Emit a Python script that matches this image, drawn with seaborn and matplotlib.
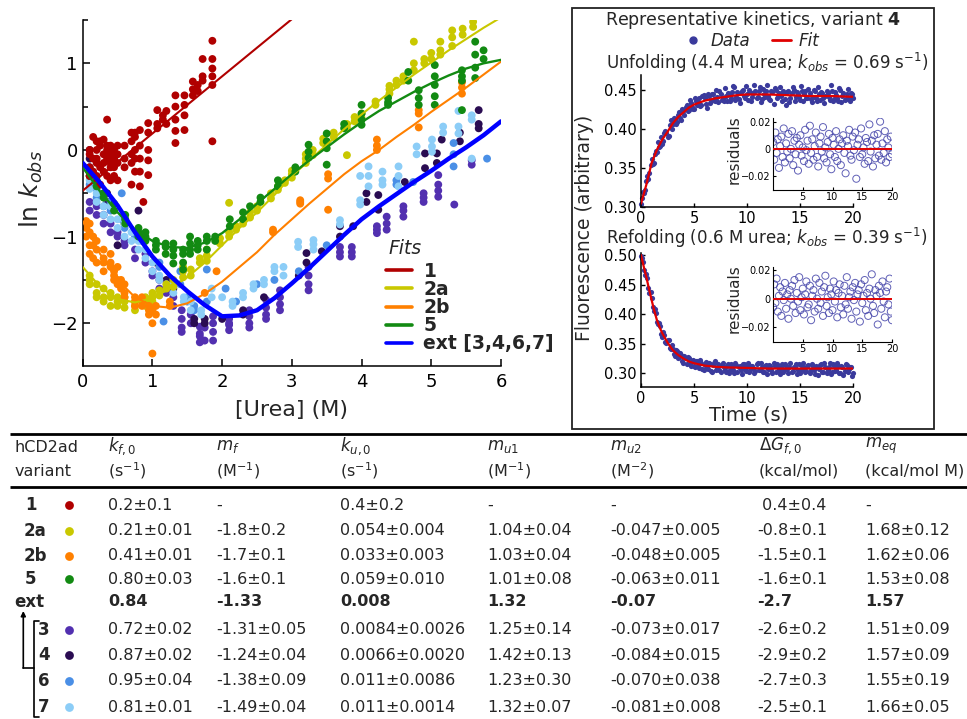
import numpy as np
import pandas as pd
import matplotlib
matplotlib.use("Agg")
import matplotlib.pyplot as plt
from matplotlib.lines import Line2D
from matplotlib.patches import Rectangle
from matplotlib.ticker import MultipleLocator, FuncFormatter, FormatStrFormatter
import seaborn as sns

# ---------------- chevron data: (urea, [ln kobs ...])
pts_1 = [
    (0.1, [-0.05, -0.2, -0.3, 0.0]), (0.15, [0.15, -0.25, -0.1]),
    (0.2, [0.1, -0.1, -0.3, -0.15, 0.0]), (0.25, [0.05, -0.2, -0.4, 0.1]),
    (0.3, [0.12, -0.05, -0.25, -0.15]), (0.35, [0.35, -0.1, -0.3, 0.0, 0.05]),
    (0.4, [0.05, -0.15, -0.35, -0.2, -0.05]), (0.45, [0.0, -0.2, -0.1, -0.3]),
    (0.5, [-0.05, -0.35, 0.05, -0.15]), (0.6, [-0.1, 0.05, -0.2]),
    (0.7, [0.1, -0.15, -0.4, -0.05, 0.2]), (0.75, [0.2, 0.0, -0.25, 0.15, -0.1]),
    (0.82, [0.23, 0.05, -0.1, -0.25, -0.42]), (0.87, [-0.6]),
    (0.94, [0.31, 0.2, 0.0, -0.12, -0.29]), (1.07, [0.46, 0.3, 0.25]),
    (1.15, [0.4, 0.35]), (1.2, [0.45, 0.3]),
    (1.33, [0.63, 0.5, 0.35, 0.22, 0.08]), (1.46, [0.63, 0.52, 0.4, 0.23]),
    (1.58, [0.79, 0.7, 0.63]), (1.65, [0.75, 0.68]),
    (1.72, [1.05, 0.85, 0.8]), (1.86, [1.26, 1.05, 0.94, 0.85, 0.75, 0.1]),
]
pts_2a = [
    (0.1, [-1.5, -1.55, -1.45]), (0.2, [-1.55, -1.65, -1.7]), (0.3, [-1.6, -1.7, -1.75]),
    (0.4, [-1.7, -1.8, -1.65]), (0.5, [-1.7, -1.75, -1.8]), (0.6, [-1.75, -1.82, -1.7]),
    (0.75, [-1.8, -1.75, -1.85]), (0.9, [-1.75, -1.7, -1.8]), (1.0, [-1.7, -1.65, -1.75]),
    (1.1, [-1.62, -1.68]), (1.2, [-1.6, -1.55]), (1.3, [-1.5, -1.58]),
    (1.44, [-1.4, -1.47, -1.35]), (1.55, [-1.38, -1.45]), (1.68, [-1.3, -1.25]),
    (1.78, [-1.15, -1.22, -1.28]), (1.97, [-1.08, -1.02]), (2.1, [-0.95, -1.0, -0.61]),
    (2.2, [-0.88, -0.92]), (2.3, [-0.8, -0.85]), (2.4, [-0.72, -0.78]),
    (2.5, [-0.65, -0.7]), (2.7, [-0.5, -0.56]), (2.8, [-0.42, -0.46]),
    (2.9, [-0.35, -0.38]), (3.0, [-0.28, -0.24, -0.32]), (3.2, [-0.1, -0.05, -0.15]),
    (3.3, [0.0, -0.06]), (3.45, [0.08, 0.13]), (3.6, [0.2, 0.15]),
    (3.79, [-0.06, 0.3, 0.26]), (3.9, [0.38, 0.33]), (4.0, [0.42, 0.37]),
    (4.2, [0.52, 0.56]), (4.4, [0.7, 0.74, 0.65]), (4.5, [0.75, 0.8]),
    (4.6, [0.85, 0.8]), (4.75, [1.25, 1.0, 0.92]), (4.9, [1.0, 1.05]),
    (5.0, [1.05, 1.12]), (5.13, [1.25, 1.15, 1.1]), (5.3, [1.38, 1.3, 1.2]),
    (5.45, [1.4, 1.33]), (5.6, [1.42, 1.48]),
]
pts_2b = [
    (0.05, [-0.82, -0.9, -1.0]), (0.1, [-0.85, -0.95, -1.1, -1.2]),
    (0.15, [-1.0, -1.1, -1.25]), (0.2, [-1.05, -1.15, -1.3]),
    (0.3, [-1.15, -1.25, -1.3, -1.4]), (0.4, [-1.3, -1.35, -1.2]),
    (0.45, [-1.4, -1.45, -1.5]), (0.5, [-1.35, -1.5, -1.55]), (0.55, [-1.6, -1.5]),
    (0.6, [-1.65, -1.55, -1.7]), (0.75, [-1.7, -1.75, -1.8]), (0.85, [-1.7, -1.8, -1.75]),
    (0.95, [-1.8, -1.85, -1.9]), (1.0, [-2.0, -1.85, -2.35]), (1.05, [-1.8, -1.9]),
    (1.25, [-1.8, -1.75]), (1.75, [-1.65]), (1.92, [-1.4]), (2.73, [-0.92, -0.95]),
    (3.12, [-0.58, -0.62, -0.6]), (3.52, [-0.28, -0.33, -0.69]),
    (4.22, [0.12, 0.05, 0.0]), (4.82, [0.46, 0.42, 0.26]), (5.44, [0.78, 0.72, 0.65]),
]
pts_5 = [
    (0.1, [-0.25, -0.3]), (0.2, [-0.35, -0.42]), (0.3, [-0.5, -0.55]),
    (0.45, [-0.62, -0.7]), (0.61, [-0.75, -0.8, -0.85]), (0.8, [-0.9, -0.95, -1.0]),
    (0.9, [-1.0, -1.05, -0.95]), (1.05, [-1.1, -1.05, -1.15]), (1.19, [-1.12, -1.2, -1.08]),
    (1.3, [-1.08, -1.15, -1.22, -1.31]), (1.44, [-1.2, -1.3, -1.38, -1.15]),
    (1.54, [-1.0, -1.08, -1.15, -1.2]), (1.65, [-1.1, -1.15, -1.05]),
    (1.78, [-1.0, -1.05, -1.15]), (1.9, [-1.0, -1.05]), (2.11, [-0.8, -0.88]),
    (2.3, [-0.72, -0.8]), (2.4, [-0.65]), (2.55, [-0.55, -0.6]), (2.8, [-0.35, -0.42]),
    (3.05, [-0.2, -0.25]), (3.24, [0.06, -0.02, -0.09]), (3.5, [0.19, 0.1, 0.02, -0.17]),
    (3.75, [0.25, 0.3]), (4.0, [0.52, 0.42, 0.35, 0.29]), (4.38, [0.6, 0.55, 0.52]),
    (4.67, [0.9, 0.8]), (4.82, [0.69, 0.6, 0.52]), (5.05, [0.98, 0.85, 0.75, 0.62, 0.52]),
    (5.44, [0.92, 0.85, 0.8, 0.46]), (5.63, [1.25, 1.1, 0.95, 0.83]), (5.75, [1.15, 1.05]),
]
pts_3 = [
    (0.1, [-0.6, -0.7]), (0.2, [-0.65, -0.75]), (0.3, [-0.75, -0.85]), (0.4, [-0.85, -0.95]),
    (0.5, [-0.95, -1.0]), (0.6, [-1.1, -1.05]), (0.75, [-1.15, -1.25]), (0.9, [-1.3, -1.2]),
    (1.0, [-1.45, -1.4]), (1.1, [-1.5, -1.6]), (1.2, [-1.6, -1.65]), (1.3, [-1.7, -1.8]),
    (1.42, [-1.85, -1.95, -2.05, -2.1]), (1.55, [-1.9, -2.0]),
    (1.68, [-2.04, -2.12, -2.22, -2.15]), (1.75, [-2.2, -2.05]),
    (1.87, [-1.92, -2.0, -2.1, -2.2]), (2.1, [-1.95, -2.0, -2.08, -2.02]),
    (2.39, [-1.85, -1.92, -2.0, -2.05]), (2.63, [-1.73, -1.82, -1.9, -1.95]),
    (2.83, [-1.62, -1.7, -1.78, -1.85]), (3.24, [-1.35, -1.45, -1.55, -1.62]),
    (3.69, [-1.12, -1.18, -1.23]), (3.86, [-1.12, -1.18, -1.23]),
    (4.22, [-0.88, -0.92, -0.96]), (4.36, [-0.77, -0.85, -0.92]),
    (4.6, [-0.65, -0.7, -0.77]), (4.89, [-0.5, -0.55, -0.6]),
    (5.1, [-0.29, -0.4, -0.47, -0.54]), (5.33, [-0.63]), (5.58, [-0.12, -0.17]),
]
pts_4 = [
    (0.1, [-0.1, 0.0, -0.2]), (0.2, [-0.4]), (0.35, [-0.5, -0.6]), (0.5, [-1.1]),
    (0.6, [-0.85]), (0.8, [-0.7]), (1.05, [-1.3]), (1.2, [-1.5]), (1.3, [-1.6]),
    (1.6, [-1.95, -2.0]), (1.75, [-2.0, -1.95]), (2.0, [-1.95]), (2.3, [-1.85, -1.9]),
    (2.6, [-1.7]), (3.1, [-1.45]), (3.21, [-1.19, -1.3]), (3.43, [-1.17]),
    (3.69, [-0.88, -1.0]), (3.88, [-0.88]), (4.07, [-0.5, -0.6]), (4.24, [-0.52, -0.69]),
    (4.62, [-0.37]), (4.91, [-0.04, -0.21]), (5.08, [-0.04, -0.15]), (5.15, [0.12]),
    (5.41, [0.2, 0.1]), (5.68, [0.46, 0.3, 0.25]),
]
pts_6 = [
    (0.1, [-0.3, -0.4]), (0.2, [-0.45, -0.55]), (0.3, [-0.5, -0.65]), (0.4, [-0.7, -0.6]),
    (0.56, [-0.5, -0.8]), (0.6, [-0.75, -0.9]), (0.75, [-0.95, -1.0]), (0.85, [-1.05]),
    (1.1, [-1.3, -1.35]), (1.16, [-1.98]), (1.4, [-1.4, -1.55]), (1.5, [-1.7, -1.75]),
    (1.6, [-1.8, -1.85]), (1.78, [-1.38, -1.75]), (2.05, [-1.6]), (2.2, [-1.75]),
    (2.5, [-1.55]), (2.75, [-1.5]), (3.1, [-1.4]), (3.5, [-1.1]), (4.5, [-0.4, -0.35]),
    (4.74, [-0.37]), (5.32, [0.08, -0.05, -0.19]), (5.8, [-0.1]),
]
pts_7 = [
    (0.1, [-0.25, -0.35, -0.45]), (0.2, [-0.4, -0.5, -0.6]), (0.3, [-0.55, -0.65, -0.75]),
    (0.4, [-0.65, -0.8]), (0.5, [-0.8, -0.9]), (0.6, [-0.85, -1.0]), (0.7, [-0.95, -1.05]),
    (0.8, [-1.05, -1.15]), (0.9, [-1.15, -1.25]), (1.0, [-1.3, -1.4]), (1.1, [-1.45, -1.5]),
    (1.2, [-1.55]), (1.3, [-1.55, -1.65]), (1.45, [-1.7, -1.75]), (1.55, [-1.75, -1.85]),
    (1.7, [-1.85, -1.9]), (1.85, [-1.6, -1.7]), (2.0, [-1.7]), (2.15, [-1.75, -1.8]),
    (2.3, [-1.7, -1.65]), (2.45, [-1.55, -1.6]), (2.6, [-1.55, -1.5]), (2.75, [-1.4, -1.35]),
    (2.88, [-1.35, -1.45]), (3.09, [-1.06, -1.12]), (3.31, [-1.04, -1.09, -1.15]),
    (3.69, [-0.81, -0.86]), (3.98, [-0.58, -0.63, -0.3]), (4.1, [-0.19, -0.3, -0.42]),
    (4.3, [-0.35, -0.4, -0.25]), (4.53, [-0.19, -0.3, -0.42]), (4.79, [0.04, -0.05]),
    (5.01, [0.12, 0.04, -0.02]), (5.17, [0.27, 0.2]), (5.39, [0.45, 0.27, 0.19]),
    (5.58, [0.4, 0.35, -0.1]),
]

# fitted chevrons, read at 0.25 M steps
urea_grid = np.linspace(0, 6, 25)
fit_2a = [-1.35, -1.58, -1.72, -1.76, -1.71, -1.6, -1.47, -1.3, -1.1, -0.9, -0.72, -0.52,
          -0.3, -0.12, 0.06, 0.24, 0.41, 0.57, 0.72, 0.87, 1.01, 1.15, 1.28, 1.41, 1.53]
fit_2b = [-0.82, -1.2, -1.5, -1.7, -1.8, -1.82, -1.77, -1.66, -1.52, -1.35, -1.18, -0.98,
          -0.8, -0.62, -0.45, -0.28, -0.13, 0.0, 0.15, 0.29, 0.44, 0.58, 0.72, 0.87, 1.02]
fit_5 = [-0.2, -0.48, -0.72, -0.92, -1.05, -1.12, -1.13, -1.07, -0.96, -0.8, -0.62, -0.45,
         -0.28, -0.12, 0.03, 0.18, 0.32, 0.45, 0.56, 0.67, 0.77, 0.86, 0.94, 1.0, 1.04]
fit_ext = [-0.15, -0.38, -0.64, -0.95, -1.23, -1.45, -1.63, -1.79, -1.92, -1.91, -1.85, -1.71,
           -1.54, -1.36, -1.17, -0.98, -0.8, -0.65, -0.51, -0.37, -0.24, -0.1, 0.03, 0.17, 0.33]
fit1_x = [0, 1, 2, 3]
fit_1 = [-0.47, 0.19, 0.85, 1.51]

# ---------------- kinetic traces, variant 4 (values x 1e-3)
# samples at 0, 0.2, ... 20 s
unf_trace_a = [
    304, 319, 321, 339, 343, 361, 356, 371, 383, 378,
    381, 394, 395, 391, 411, 406, 413, 409, 422, 411,
    423, 428, 423, 437, 428, 425, 436, 434, 429, 442,
    439, 427, 442, 436, 444, 435, 441, 448, 437, 435,
    442, 446, 435, 447, 453, 441, 438, 446, 450, 440,
    444, 450, 436, 446, 448, 441, 453, 438, 445, 449,
    442, 437, 447, 452, 440, 446, 442, 449, 438, 447,
    434, 446, 450, 441, 444, 437, 448, 445, 440, 451,
    438, 441, 448, 435, 445, 447, 440, 442, 446, 437,
    449, 438, 443, 435, 450, 442, 437, 444, 439, 446,
    440,
]
# samples at 0.1, 0.3, ... 19.9 s
unf_trace_b = [
    311, 318, 333, 336, 354, 355, 368, 370, 377, 389,
    384, 397, 390, 405, 400, 414, 406, 418, 414, 425,
    418, 431, 424, 433, 426, 439, 430, 440, 431, 443,
    432, 445, 433, 444, 438, 450, 434, 445, 439, 452,
    436, 444, 440, 455, 437, 447, 433, 449, 442, 455,
    437, 447, 441, 456, 439, 448, 434, 451, 441, 456,
    438, 448, 432, 450, 443, 454, 436, 446, 431, 449,
    439, 453, 436, 447, 441, 455, 436, 449, 439, 446,
    434, 450, 440, 453, 437, 446, 433, 449, 441, 456,
    436, 447, 440, 452, 434, 446, 438, 451, 436, 445,
]
ref_trace_a = [
    499, 489, 467, 461, 436, 427, 405, 402, 383, 380,
    362, 364, 351, 357, 341, 341, 330, 338, 328, 331,
    318, 326, 327, 315, 320, 312, 320, 312, 322, 308,
    314, 309, 317, 304, 314, 320, 309, 305, 314, 311,
    303, 316, 306, 311, 300, 314, 310, 305, 316, 307,
    312, 303, 313, 309, 304, 317, 306, 311, 302, 314,
    308, 313, 301, 312, 315, 305, 310, 303, 316, 307,
    311, 303, 310, 316, 305, 301, 312, 308, 304, 314,
    306, 313, 299, 311, 307, 315, 303, 310, 305, 317,
    302, 312, 306, 313, 301, 311, 304, 314, 307, 310,
    300,
]
ref_trace_b = [
    495, 474, 468, 444, 437, 412, 408, 386, 385, 367,
    370, 353, 357, 343, 347, 333, 339, 326, 334, 321,
    329, 316, 325, 313, 322, 310, 321, 309, 318, 306,
    319, 307, 316, 303, 318, 306, 315, 302, 317, 305,
    313, 300, 315, 306, 318, 302, 312, 299, 315, 304,
    317, 306, 313, 300, 315, 305, 318, 303, 312, 298,
    314, 305, 317, 302, 311, 299, 316, 306, 313, 301,
    317, 304, 311, 298, 315, 306, 318, 302, 312, 300,
    316, 305, 313, 297, 314, 303, 317, 301, 311, 298,
    315, 304, 318, 300, 312, 297, 316, 303, 310, 295,
]
unf_resid = [
    5, -8, 12, -3, 7, -14, 2, 9, -6, 15,
    -10, 4, -2, 11, -7, 0, 13, -12, 6, -4,
    8, -16, 3, 10, -5, 1, -9, 14, -1, 6,
    -11, 17, -3, 7, -8, 2, 12, -6, -13, 4,
    9, -2, 16, -7, 1, -10, 5, 11, -4, -15,
    8, 3, -6, 13, -9, 0, 7, -12, 4, 10,
    -3, -18, 6, 2, 14, -5, -8, 9, -1, 12,
    -22, 3, 7, -6, 15, -4, 1, -11, 8, 5,
    -9, 18, -2, 6, -13, 10, -7, 3, 11, -5,
    20, -8, 4, -3, 13, -10, 7, 1, -6, 9,
    -4,
]
ref_resid = [
    -6, 10, -3, 14, -9, 2, 8, -12, 5, -1,
    11, -7, 3, -14, 6, 0, 9, -5, 13, -10,
    4, -2, 15, -8, 1, 7, -11, 3, 12, -6,
    -4, 9, -15, 2, 6, -9, 14, 0, -7, 11,
    -3, 5, -12, 8, 16, -5, 1, -10, 7, 3,
    -8, 12, -2, 6, -13, 4, 10, -6, 2, -11,
    9, -4, 15, -7, 1, 5, -14, 8, -1, 11,
    -9, 3, 6, -16, 10, -3, 2, 13, -8, 4,
    -12, 7, 0, 17, -5, -10, 6, 2, -18, 9,
    4, -7, 12, -2, -13, 5, 8, -4, 14, -9,
    -15,
]
unf_fit_t = [0, 0.5, 1, 1.5, 2, 2.5, 3, 3.5, 4, 4.5, 5, 6, 7, 8, 9, 10, 12, 14, 16, 18, 20]
unf_fit = [0.304, 0.328, 0.356, 0.373, 0.386, 0.396, 0.407, 0.415, 0.421, 0.427, 0.431,
           0.436, 0.439, 0.441, 0.443, 0.444, 0.444, 0.443, 0.442, 0.442, 0.441]
ref_fit_t = [0, 0.25, 0.5, 0.75, 1, 1.25, 1.5, 1.75, 2, 2.5, 3, 3.5, 4, 4.5, 5, 6, 7, 8,
             10, 12, 15, 20]
ref_fit = [0.500, 0.481, 0.463, 0.443, 0.424, 0.406, 0.390, 0.378, 0.368, 0.352, 0.339,
           0.331, 0.325, 0.320, 0.317, 0.313, 0.311, 0.310, 0.309, 0.308, 0.308, 0.308]

# ---------------- table
variants = ['1', '2a', '2b', '5', 'ext', '3', '4', '6', '7']
kf0 = ['0.2±0.1', '0.21±0.01', '0.41±0.01', '0.80±0.03', '0.84', '0.72±0.02', '0.87±0.02',
       '0.95±0.04', '0.81±0.01']
mf = ['-', '-1.8±0.2', '-1.7±0.1', '-1.6±0.1', '-1.33', '-1.31±0.05', '-1.24±0.04',
      '-1.38±0.09', '-1.49±0.04']
ku0 = ['0.4±0.2', '0.054±0.004', '0.033±0.003', '0.059±0.010', '0.008', '0.0084±0.0026',
       '0.0066±0.0020', '0.011±0.0086', '0.011±0.0014']
mu1 = ['-', '1.04±0.04', '1.03±0.04', '1.01±0.08', '1.32', '1.25±0.14', '1.42±0.13',
       '1.23±0.30', '1.32±0.07']
mu2 = ['-', '-0.047±0.005', '-0.048±0.005', '-0.063±0.011', '-0.07', '-0.073±0.017',
       '-0.084±0.015', '-0.070±0.038', '-0.081±0.008']
dG = [' 0.4±0.4', '-0.8±0.1', '-1.5±0.1', '-1.6±0.1', '-2.7', '-2.6±0.2', '-2.9±0.2',
      '-2.7±0.3', '-2.5±0.1']
meq = ['-', '1.68±0.12', '1.62±0.06', '1.53±0.08', '1.57', '1.51±0.09', '1.57±0.09',
       '1.55±0.19', '1.66±0.05']
headers = [r'$k_{f,0}$', r'$m_f$', r'$k_{u,0}$', r'$m_{u1}$', r'$m_{u2}$',
           r'$\Delta G_{f,0}$', r'$m_{eq}$']
units = [r'(s$^{-1}$)', r'(M$^{-1}$)', r'(s$^{-1}$)', r'(M$^{-1}$)', r'(M$^{-2}$)',
         '(kcal/mol)', '(kcal/mol M)']

colors = {'1': '#b00000', '2a': '#c9c800', '2b': '#ff8000', '5': '#128a12',
          '3': '#5230b0', '4': '#2a0c52', '6': '#4a8fe6', '7': '#8ccdf7'}
ext_blue = '#0000ff'
dot_col = '#3a3a9c'

# ---------------- style
sns.set_style("ticks")
plt.rcParams['font.family'] = ['DejaVu Sans']
plt.rcParams['mathtext.fontset'] = 'dejavusans'
plt.rcParams['xtick.direction'] = 'in'
plt.rcParams['ytick.direction'] = 'in'
plt.rcParams['axes.linewidth'] = 1.1
plt.rcParams['axes.edgecolor'] = 'black'
plt.rcParams['xtick.color'] = 'black'
plt.rcParams['ytick.color'] = 'black'

W, H = 967, 719
fig = plt.figure(figsize=(W / 100, H / 100), dpi=100)


def box(l, t, r, b):
    # pixel box -> figure fraction
    return [l / W, 1 - b / H, (r - l) / W, (b - t) / H]


# overlay in pixel units for table and annotations
ov = fig.add_axes([0, 0, 1, 1], zorder=-5)
ov.set_xlim(0, W)
ov.set_ylim(H, 0)
ov.axis('off')

# ---------------- chevron plot
ax = fig.add_axes(box(82.7, 20, 501, 365.7))
order = [('3', pts_3), ('4', pts_4), ('6', pts_6), ('7', pts_7),
         ('2a', pts_2a), ('2b', pts_2b), ('5', pts_5), ('1', pts_1)]
rows = [(x, y, name) for name, groups in order for x, ys in groups for y in ys]
chev = pd.DataFrame(rows, columns=['urea', 'lnk', 'variant'])
sns.scatterplot(data=chev, x='urea', y='lnk', hue='variant', palette=colors, s=32,
                linewidth=0, legend=False, ax=ax, zorder=2)

fit_lw = 1.5
sns.lineplot(x=fit1_x, y=fit_1, color=colors['1'], lw=fit_lw, ax=ax, zorder=3)
sns.lineplot(x=urea_grid, y=fit_2a, color=colors['2a'], lw=fit_lw, ax=ax, zorder=3)
sns.lineplot(x=urea_grid, y=fit_2b, color=colors['2b'], lw=fit_lw, ax=ax, zorder=3)
sns.lineplot(x=urea_grid, y=fit_5, color=colors['5'], lw=fit_lw + 0.2, ax=ax, zorder=3)
sns.lineplot(x=urea_grid, y=fit_ext, color=ext_blue, lw=3.2, ax=ax, zorder=4)

ax.set_xlim(0, 6)
ax.set_ylim(-2.49, 1.5)
ax.xaxis.set_major_locator(MultipleLocator(1))
ax.yaxis.set_major_locator(MultipleLocator(1))
ax.yaxis.set_minor_locator(MultipleLocator(0.5))
ax.tick_params(which='major', length=5, width=1.1, labelsize=13)
ax.tick_params(which='minor', length=3.5, width=1.1)
ax.tick_params(axis='x', pad=5)
sns.despine(ax=ax)
ax.set_xlabel('[Urea] (M)', fontsize=16)
ax.set_ylabel(r'ln $k_{obs}$', fontsize=18)
ax.xaxis.set_label_coords(0.5, -0.10)
ax.yaxis.set_label_coords(-0.09, 0.51)

fit_handles = [Line2D([], [], color=colors['1'], lw=2.6),
               Line2D([], [], color=colors['2a'], lw=2.6),
               Line2D([], [], color=colors['2b'], lw=2.6),
               Line2D([], [], color=colors['5'], lw=2.6),
               Line2D([], [], color=ext_blue, lw=2.6)]
ax.text(0.730, 0.338, 'Fits', transform=ax.transAxes, style='italic', fontsize=13.5,
        ha='left', va='center')
ax.legend(fit_handles, ['1', '2a', '2b', '5', 'ext [3,4,6,7]'],
          loc='upper left', bbox_to_anchor=(0.725, 0.30), frameon=False,
          prop={'weight': 'bold', 'size': 13.5},
          handlelength=1.4, handletextpad=0.6, labelspacing=-0.05, borderpad=0,
          borderaxespad=0)

# ---------------- kinetics box
ov.add_patch(Rectangle((572, 8), 362, 421, fill=False, lw=1.3, ec='#222222'))
ov.text(753, 20, r'Representative kinetics, variant $\mathbf{4}$', ha='center', va='center',
        fontsize=12.5)
kin_handles = [Line2D([], [], marker='o', ls='', color=dot_col, markersize=5),
               Line2D([], [], color='#e00000', lw=2)]
ov.legend(kin_handles, ['Data', 'Fit'], loc='center', bbox_to_anchor=(752, 41),
          bbox_transform=ov.transData, ncol=2, frameon=False,
          prop={'style': 'italic', 'size': 12}, handlelength=1.1, handletextpad=0.5,
          columnspacing=1.3, borderpad=0)
ov.text(606, 63, r'Unfolding (4.4 M urea; $k_{obs}$ = 0.69 s$^{-1}$)', ha='left',
        va='center', fontsize=12)
ov.text(606, 238, r'Refolding (0.6 M urea; $k_{obs}$ = 0.39 s$^{-1}$)', ha='left',
        va='center', fontsize=12)
ov.text(585, 228, 'Fluorescence (arbitrary)', rotation=90, ha='center', va='center',
        fontsize=13.5)
ov.text(749, 415, 'Time (s)', ha='center', va='center', fontsize=14)

t_a = np.linspace(0, 20, 101)
t_b = np.linspace(0.1, 19.9, 100)
t_all = np.concatenate([t_a, t_b])
ax_u = fig.add_axes(box(641, 75, 853, 206.7))
ax_r = fig.add_axes(box(641, 253, 853, 386.7))
for a, tr_a, tr_b, ft, fv, ylim, yt in [
        (ax_u, unf_trace_a, unf_trace_b, unf_fit_t, unf_fit, (0.30, 0.469),
         [0.30, 0.35, 0.40, 0.45]),
        (ax_r, ref_trace_a, ref_trace_b, ref_fit_t, ref_fit, (0.2773, 0.5034),
         [0.30, 0.35, 0.40, 0.45, 0.50])]:
    vals = np.concatenate([tr_a, tr_b]) / 1000
    sns.scatterplot(x=t_all, y=vals, color=dot_col, s=14, linewidth=0,
                    ax=a, zorder=2, clip_on=False)
    sns.lineplot(x=ft, y=fv, color='#e00000', lw=1.6, ax=a, zorder=3)
    a.set_xlim(0, 20)
    a.set_ylim(*ylim)
    a.set_yticks(yt)
    a.set_xticks([0, 5, 10, 15, 20])
    a.yaxis.set_major_formatter(FormatStrFormatter('%.2f'))
    a.tick_params(length=3, width=1, labelsize=10.5, pad=3)
    a.set_xlabel('')
    a.set_ylabel('')
    sns.despine(ax=a)


def resid_fmt(v, pos):
    if abs(v) < 1e-9:
        return '0'
    return ('\u2212' if v < 0 else '') + f'{abs(v):.2f}'


ax_ui = fig.add_axes(box(773, 118, 892, 190))
ax_ri = fig.add_axes(box(773, 266.7, 892, 341.7))
for a, res, ylim, lab_y in [(ax_ui, unf_resid, (-0.0303, 0.0227), 0.556),
                            (ax_ri, ref_resid, (-0.030, 0.0223), 0.57)]:
    a.patch.set_alpha(0)
    a.scatter(t_a, np.array(res) / 1000, s=26, facecolors='none', edgecolors='#4545aa',
              linewidths=0.7, alpha=0.85, zorder=2)
    sns.lineplot(x=[0, 20], y=[0, 0], color='#e00000', lw=1.4, ax=a, zorder=3)
    a.set_xlim(0, 20)
    a.set_ylim(*ylim)
    a.set_xticks([5, 10, 15, 20])
    a.set_yticks([-0.02, 0, 0.02])
    a.yaxis.set_major_formatter(FuncFormatter(resid_fmt))
    a.tick_params(length=2.5, width=0.8, labelsize=7, pad=1.5)
    for s in a.spines.values():
        s.set_linewidth(0.8)
    sns.despine(ax=a)
    a.set_xlabel('')
    a.set_ylabel('residuals', fontsize=11)
    a.yaxis.set_label_coords(-0.265, lab_y)

# ---------------- table
rule_kw = dict(color='black', lw=2.0, solid_capstyle='butt')
ov.plot([10, 967], [434, 434], **rule_kw)
ov.plot([10, 967], [487, 487], **rule_kw)
ov.text(15, 447, 'hCD2ad', ha='left', va='center', fontsize=11.5)
ov.text(15, 471, 'variant', ha='left', va='center', fontsize=11.5)
col_x = [108, 216, 340, 487, 610, 759, 865]
for cx, hd, un in zip(col_x, headers, units):
    ov.text(cx, 446, hd, ha='left', va='center', fontsize=12)
    ov.text(cx, 471, un, ha='left', va='center', fontsize=11.5)

row_y = [505, 530.7, 555.7, 579, 602, 630, 655, 680.7, 707]
name_x = [25, 24, 24, 25, 14, 38, 38, 38, 38]
val_x = [108, 216, 340, 487, 610, 757, 865]
for i, v in enumerate(variants):
    y = row_y[i]
    bold = v == 'ext'
    ov.text(name_x[i], y, v, ha='left', va='center', fontsize=12, fontweight='bold')
    if v in colors:
        ov.scatter([69], [y], s=40, color=colors[v], linewidth=0)
    for cx, col in zip(val_x, [kf0, mf, ku0, mu1, mu2, dG, meq]):
        ov.text(cx, y, col[i], ha='left', va='center', fontsize=11.5,
                fontweight='bold' if bold else 'normal')

# bracket linking variants 3,4,6,7 to ext
ov.annotate('', xy=(23.3, 611), xytext=(23.3, 668),
            arrowprops=dict(arrowstyle='-|>', lw=1.2, color='black', mutation_scale=7,
                            shrinkA=0, shrinkB=0))
ov.plot([23.3, 34.3], [667.7, 667.7], color='black', lw=1.2)
ov.plot([39.3, 34.3, 34.3, 39.3], [621, 621, 716.7, 716.7], color='black', lw=1.2)

fig.savefig('out.png', dpi=100)
